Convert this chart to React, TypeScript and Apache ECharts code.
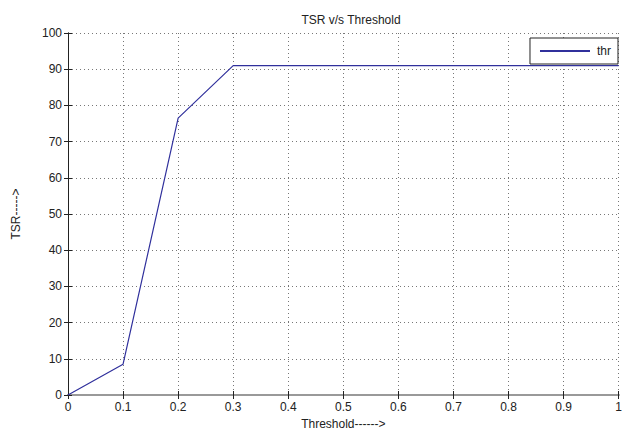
import React, { useEffect, useRef } from "react";
import * as echarts from "echarts";

// Threshold sweep and resulting TSR (%)
const thresholds = [0, 0.1, 0.2, 0.3, 0.4, 0.5, 0.6, 0.7, 0.8, 0.9, 1.0];
const tsrValues = [0, 8.5, 76.5, 91, 91, 91, 91, 91, 91, 91, 91];
const seriesName = "thr";

const FONT = "Liberation Sans, Arial, sans-serif";

export default function App() {
  const ref = useRef<HTMLDivElement>(null);

  useEffect(() => {
    if (!ref.current) return;
    const chart = echarts.init(ref.current, null, { renderer: "svg" });
    const axisLine = { show: true, lineStyle: { color: "#222", width: 1 } };
    const tickIn = { show: true, inside: true, length: 4, lineStyle: { color: "#222" } };
    const gridDots = { show: true, lineStyle: { color: "#777", type: [1, 3], width: 1 } };
    chart.setOption({
      animation: false,
      backgroundColor: "#fff",
      title: {
        text: "TSR v/s Threshold",
        left: 346,
        textAlign: "center",
        top: 9,
        textStyle: { fontFamily: FONT, fontSize: 12, fontWeight: "normal", color: "#222" },
      },
      legend: {
        data: [{ name: seriesName, icon: "path://M0,0 L1,0 L1,0.04 L0,0.04 Z" }],
        right: 7,
        top: 38,
        orient: "vertical",
        itemWidth: 54,
        itemHeight: 2,
        itemGap: 0,
        padding: [7, 7, 7, 10],
        borderColor: "#222",
        borderWidth: 1,
        backgroundColor: "#fff",
        textStyle: { fontFamily: FONT, fontSize: 12, color: "#222" },
      },
      grid: { left: 68, right: 0, top: 33, bottom: 40, containLabel: false },
      xAxis: [
        {
          type: "value",
          min: 0,
          max: 1,
          interval: 0.1,
          name: "Threshold------>",
          nameLocation: "middle",
          nameGap: 21,
          nameTextStyle: { fontFamily: FONT, fontSize: 12, color: "#222" },
          axisLine: { show: true, lineStyle: { color: "#999", width: 2 } },
          axisTick: tickIn,
          axisLabel: {
            fontFamily: FONT,
            fontSize: 12,
            color: "#222",
            margin: 6,
            formatter: (v: number) => String(Math.round(v * 10) / 10),
          },
          splitLine: gridDots,
        },
        {
          type: "value",
          position: "top",
          min: 0,
          max: 1,
          interval: 0.1,
          axisLine: { show: true, lineStyle: { color: "#999", width: 2 } },
          axisTick: tickIn,
          axisLabel: { show: false },
          splitLine: { show: false },
        },
      ],
      yAxis: [
        {
          type: "value",
          min: 0,
          max: 100,
          interval: 10,
          name: "TSR----->",
          nameLocation: "middle",
          nameGap: 46,
          nameTextStyle: { fontFamily: FONT, fontSize: 12, color: "#222" },
          axisLine,
          axisTick: tickIn,
          axisLabel: { fontFamily: FONT, fontSize: 12, color: "#222", margin: 6 },
          splitLine: gridDots,
        },
        {
          type: "value",
          position: "right",
          min: 0,
          max: 100,
          interval: 10,
          axisLine,
          axisTick: tickIn,
          axisLabel: { show: false },
          splitLine: { show: false },
        },
      ],
      series: [
        {
          name: seriesName,
          type: "line",
          data: thresholds.map((t, i) => [t, tsrValues[i]]),
          showSymbol: false,
          symbol: "none",
          lineStyle: { color: "#30309c", width: 1.2 },
          itemStyle: { color: "#30309c" },
        },
      ],
    });
    return () => chart.dispose();
  }, []);

  return (
    <div
      ref={ref}
      style={{ position: "fixed", left: 0, top: 0, width: 625, height: 435, background: "#fff" }}
    />
  );
}
